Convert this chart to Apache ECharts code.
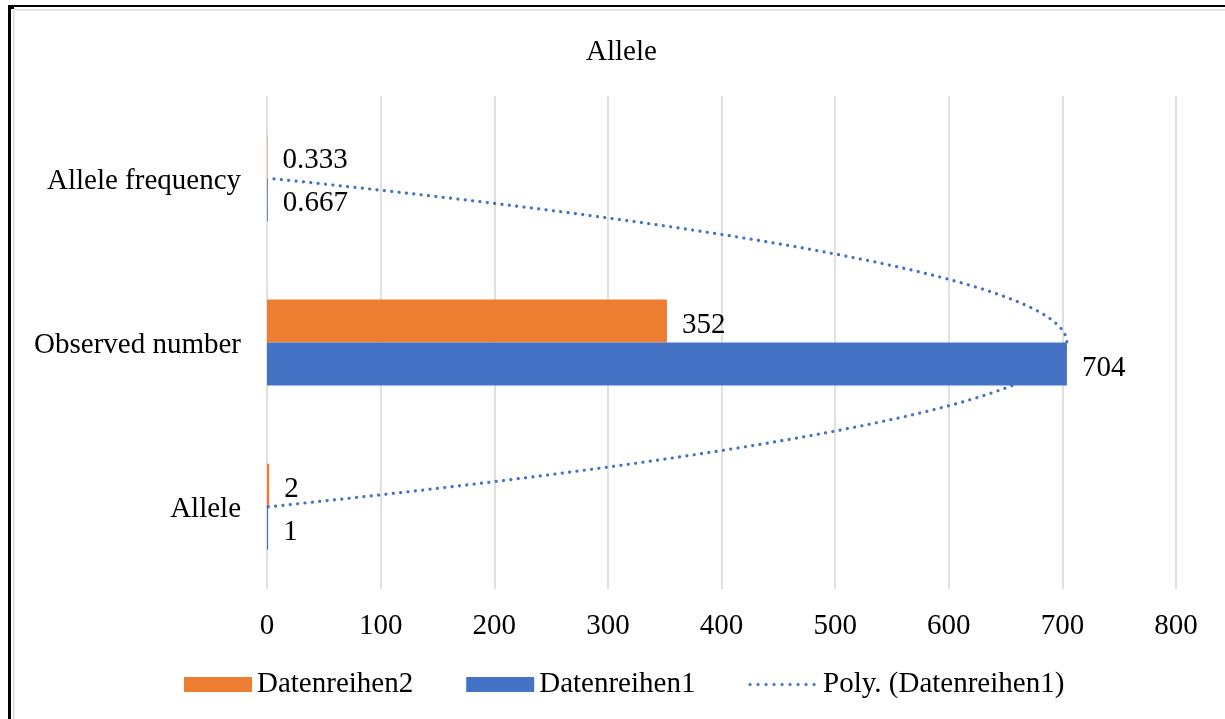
<!DOCTYPE html>
<html>
<head>
<meta charset="utf-8">
<title>Allele</title>
<script src="https://cdn.jsdelivr.net/npm/echarts@6/dist/echarts.min.js"></script>
<style>
  html, body { margin: 0; padding: 0; background: #fff; }
  #chart { width: 1225px; height: 719px; }
</style>
</head>
<body>
<div id="chart"></div>
<script>
// Categories, bottom to top
const categories = ['Allele', 'Observed number', 'Allele frequency'];
// Series values per category
const series1Values = [1, 704, 0.667];   // Datenreihen1
const series2Values = [2, 352, 0.333];   // Datenreihen2
const seriesNames = ['Datenreihen2', 'Datenreihen1', 'Poly. (Datenreihen1)'];
// Value axis ticks
const xTicks = [0, 100, 200, 300, 400, 500, 600, 700, 800];

const FONT = '"Liberation Serif", "Times New Roman", serif';
const BLUE = '#4472C4';
const ORANGE = '#ED7D31';

// Least-squares polynomial (order 2) trendline of Datenreihen1 over category positions 1..n
function polyFit(ys, order) {
  const n = ys.length, m = order + 1;
  const A = [], b = [];
  for (let r = 0; r < m; r++) {
    A.push(new Array(m).fill(0));
    b.push(0);
  }
  for (let k = 0; k < n; k++) {
    const x = k + 1;
    for (let r = 0; r < m; r++) {
      for (let c = 0; c < m; c++) A[r][c] += Math.pow(x, r + c);
      b[r] += ys[k] * Math.pow(x, r);
    }
  }
  // Gaussian elimination
  for (let i = 0; i < m; i++) {
    let p = i;
    for (let r = i + 1; r < m; r++) if (Math.abs(A[r][i]) > Math.abs(A[p][i])) p = r;
    [A[i], A[p]] = [A[p], A[i]]; [b[i], b[p]] = [b[p], b[i]];
    for (let r = i + 1; r < m; r++) {
      const f = A[r][i] / A[i][i];
      for (let c = i; c < m; c++) A[r][c] -= f * A[i][c];
      b[r] -= f * b[i];
    }
  }
  const coef = new Array(m).fill(0);
  for (let i = m - 1; i >= 0; i--) {
    let s = b[i];
    for (let c = i + 1; c < m; c++) s -= A[i][c] * coef[c];
    coef[i] = s / A[i][i];
  }
  return coef;
}
const coef = polyFit(series1Values, 2);
const trendPoints = [];
const steps = 200;
for (let s = 0; s <= steps; s++) {
  const t = (categories.length - 1) * s / steps;   // category index 0..n-1
  const x = t + 1;
  const v = coef[0] + coef[1] * x + coef[2] * x * x;
  trendPoints.push([v, t]);
}

const chart = echarts.init(document.getElementById('chart'), null, { renderer: 'canvas' });

const labelStyle = {
  show: true,
  position: 'right',
  distance: 15,
  offset: [0, 4],
  color: '#000',
  fontFamily: FONT,
  fontSize: 29
};

const dottedStyle = { color: BLUE, width: 3.2, type: [0.1, 7.3], cap: 'round' };

chart.setOption({
  animation: false,
  backgroundColor: '#fff',
  title: {
    text: 'Allele',
    left: 581,
    top: 33,
    textStyle: { fontFamily: FONT, fontSize: 29, fontWeight: 'normal', color: '#000' }
  },
  legend: {
    left: 179,
    top: 665,
    itemWidth: 68,
    itemHeight: 15,
    itemGap: 53,
    textStyle: { fontFamily: FONT, fontSize: 29, color: '#000' },
    data: [
      { name: seriesNames[0], icon: 'rect' },
      { name: seriesNames[1], icon: 'rect' },
      {
        name: seriesNames[2],
        itemStyle: { opacity: 0 },
        lineStyle: { color: BLUE, width: 3.2, type: [0.1, 7.9], cap: 'round' }
      }
    ]
  },
  grid: { left: 267, right: 49, top: 96, bottom: 130 },
  xAxis: {
    type: 'value',
    min: xTicks[0],
    max: xTicks[xTicks.length - 1],
    interval: xTicks[1] - xTicks[0],
    axisLine: { show: false },
    axisTick: { show: false },
    axisLabel: { color: '#000', fontFamily: FONT, fontSize: 29, margin: 23 },
    splitLine: { show: true, lineStyle: { color: '#d9d9d9', width: 1.6 } }
  },
  yAxis: [
    {
      type: 'category',
      data: categories,
      axisLine: { show: false },
      axisTick: { show: false },
      axisLabel: {
        margin: 26,
        formatter: '{c|{value}}',
        rich: {
          c: { color: '#000', fontFamily: FONT, fontSize: 29, padding: [6, 0, 0, 0] }
        }
      }
    },
    {
      type: 'value',
      min: -0.5,
      max: categories.length - 0.5,
      show: false
    }
  ],
  series: [
    {
      name: seriesNames[0],
      type: 'bar',
      data: series2Values,
      barWidth: 43,
      barGap: '0%',
      itemStyle: { color: ORANGE },
      label: labelStyle
    },
    {
      name: seriesNames[1],
      type: 'bar',
      data: series1Values,
      barWidth: 43,
      barGap: '0%',
      itemStyle: { color: BLUE },
      label: labelStyle
    },
    {
      name: seriesNames[2],
      type: 'line',
      yAxisIndex: 1,
      data: trendPoints,
      symbol: 'none',
      silent: true,
      z: 5,
      itemStyle: { color: BLUE },
      lineStyle: dottedStyle
    }
  ],
  graphic: [
    { type: 'rect', shape: { x: 8, y: 5, width: 1217, height: 2 }, style: { fill: '#000' } },
    { type: 'rect', shape: { x: 8, y: 5, width: 3, height: 714 }, style: { fill: '#000' } },
    { type: 'rect', shape: { x: 8, y: 7, width: 6, height: 2 }, style: { fill: '#000' } },
    { type: 'rect', shape: { x: 14, y: 9, width: 1211, height: 1.5 }, style: { fill: '#d9d9d9' } },
    { type: 'rect', shape: { x: 13, y: 10, width: 1.5, height: 709 }, style: { fill: '#d9d9d9' } }
  ]
});
</script>
</body>
</html>
